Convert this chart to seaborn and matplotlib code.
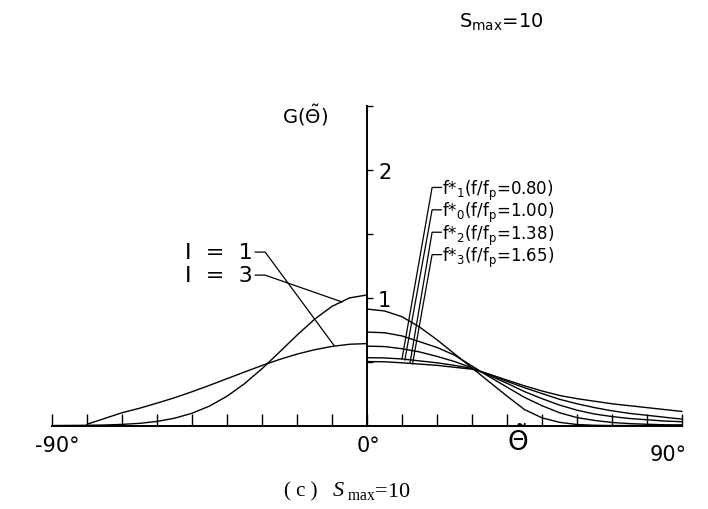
import numpy as np
import pandas as pd
import matplotlib
matplotlib.use("Agg")
import matplotlib.pyplot as plt
import seaborn as sns

# ---------------- data ----------------
theta_i3 = [-90, -85, -80, -75, -70, -65, -60, -55, -50, -45, -40, -35, -30, -25, -20, -15, -10, -5, 0]
g_i3 = [0.0, 0.001, 0.002, 0.004, 0.009, 0.017, 0.032, 0.057, 0.096, 0.152, 0.229, 0.327,
        0.444, 0.574, 0.706, 0.830, 0.931, 0.997, 1.02]

theta_i1 = [-80, -75, -70, -65, -60, -55, -50, -45, -40, -35, -30, -25, -20, -15, -10, -5, 0]
g_i1 = [0.01, 0.055, 0.10, 0.135, 0.175, 0.217, 0.264, 0.314, 0.366, 0.418, 0.469, 0.516,
        0.558, 0.592, 0.618, 0.635, 0.64]

theta_r = [0, 5, 10, 15, 20, 25, 30, 35, 40, 45, 50, 55, 60, 65, 70, 75, 80, 85, 90]
g_a = [0.91, 0.895, 0.85, 0.77, 0.67, 0.56, 0.45, 0.34, 0.23, 0.125, 0.06, 0.025, 0.008, 0.002, 0, 0, 0, 0, 0]
g_b = [0.73, 0.725, 0.70, 0.655, 0.61, 0.55, 0.465, 0.38, 0.30, 0.22, 0.155, 0.10, 0.062, 0.04, 0.024, 0.015, 0.01, 0.006, 0.005]
g_c = [0.62, 0.617, 0.60, 0.575, 0.54, 0.50, 0.45, 0.39, 0.33, 0.265, 0.21, 0.16, 0.12, 0.09, 0.07, 0.055, 0.045, 0.035, 0.03]
g_d = [0.53, 0.528, 0.52, 0.505, 0.49, 0.47, 0.445, 0.40, 0.345, 0.295, 0.25, 0.205, 0.17, 0.14, 0.115, 0.095, 0.08, 0.065, 0.05]
g_e = [0.50, 0.498, 0.49, 0.48, 0.47, 0.455, 0.44, 0.40, 0.355, 0.31, 0.27, 0.235, 0.21, 0.19, 0.17, 0.155, 0.14, 0.125, 0.11]

freq_labels = [r"f*$_{\mathregular{1}}$(f/f$_{\mathregular{p}}$=0.80)",
               r"f*$_{\mathregular{0}}$(f/f$_{\mathregular{p}}$=1.00)",
               r"f*$_{\mathregular{2}}$(f/f$_{\mathregular{p}}$=1.38)",
               r"f*$_{\mathregular{3}}$(f/f$_{\mathregular{p}}$=1.65)"]
freq_targets = [(10.0, 0.52), (10.8, 0.51), (12.3, 0.49), (13.0, 0.48)]

iter_labels = ["I  =  1", "I  =  3"]
iter_targets = [(-9.4, 0.625), (-7.1, 0.965)]

xtick_pos = list(range(-90, 91, 10))
xlabel_pos = [-88.5, 0.5, 86.0]
xlabel_text = ["-90°", "0°", "90°"]
ytick_pos = [0.5, 1.0, 1.5, 2.0, 2.5]
ytick_text = ["", "1", "", "2", ""]

# ---------------- figure ----------------
sns.set_theme(style="white")
plt.rcParams["font.family"] = ["DejaVu Sans"]

fig = plt.figure(figsize=(7.08, 5.10), dpi=100)
ax = fig.add_axes([0, 0, 1, 1])
ax.set_facecolor("white")
ax.set_xlim(-104.86, 97.43)
ax.set_ylim(-0.652, 3.332)

curves = [(theta_i3, g_i3), (theta_i1, g_i1),
          (theta_r, g_a), (theta_r, g_b), (theta_r, g_c), (theta_r, g_d), (theta_r, g_e)]
for th, g in curves:
    df = pd.DataFrame({"theta": th, "G": g})
    sns.lineplot(data=df, x="theta", y="G", ax=ax, color="black", lw=1.0,
                 estimator=None, sort=False, legend=False)

# axes / spines
for s in ["top", "right"]:
    ax.spines[s].set_visible(False)
ax.spines["left"].set_position(("data", 0))
ax.spines["bottom"].set_position(("data", 0))
ax.spines["left"].set_bounds(0, 2.5)
ax.spines["bottom"].set_bounds(-90, 90)
for s in ["left", "bottom"]:
    ax.spines[s].set_color("black")
    ax.spines[s].set_linewidth(1.4)

ax.set_xticks(xtick_pos)
ax.set_xticklabels([""] * len(xtick_pos))
ax.tick_params(axis="x", which="major", bottom=True, direction="in", length=8.5,
               width=1.0, color="black")
ax.set_yticks(ytick_pos)
ax.set_yticklabels(ytick_text)
ax.tick_params(axis="y", which="major", left=True, direction="in", length=4, width=1.0,
               color="black", pad=-8, labelsize=15, labelcolor="black")
for t in ax.get_yticklabels():
    t.set_ha("left")
ax.set_xlabel("")
ax.set_ylabel("")

for xp, lab in zip(xlabel_pos, xlabel_text):
    yy = -0.22 if lab == "90°" else -0.155
    ax.text(xp, yy, lab, ha="center", va="center", fontsize=15, color="black")

# axis titles
ax.text(-17.7, 2.43, r"G($\tilde{\Theta}$)", ha="center", va="center", fontsize=14, color="black")
ax.text(43.1, -0.115, r"$\tilde{\Theta}$", ha="center", va="center", fontsize=19, color="black")

# frequency labels with leaders
row_y = [1.84, 1.665, 1.49, 1.315]
for lab, ry, (tx, ty) in zip(freq_labels, row_y, freq_targets):
    ax.text(21.4, ry, lab, ha="left", va="center", fontsize=12, color="black")
    ax.plot([21.3, 18.6, tx], [ry + 0.02, ry + 0.02, ty], color="black", lw=0.9)

# iteration labels with leaders
iter_y = [1.355, 1.175]
for lab, ry, (tx, ty) in zip(iter_labels, iter_y, iter_targets):
    ax.text(-52.0, ry, lab, ha="left", va="center", fontsize=16, color="black")
    ax.plot([-32.0, -29.1, tx], [ry, ry, ty], color="black", lw=0.9)

# top title
ax.text(38.3, 3.16, r"S$_{\mathregular{max}}$=10", ha="center", va="center", fontsize=14, color="black")

# caption
ax.text(-18.9, -0.51, "( c )", ha="center", va="center", fontsize=15,
        family="Liberation Serif", color="black")
ax.text(-9.7, -0.51, "S", ha="left", va="center", fontsize=16, fontstyle="italic",
        family="Liberation Serif", color="black")
ax.text(-5.6, -0.51, r"$_{\mathregular{max}}$=10", ha="left", va="center", fontsize=16,
        family="Liberation Serif", color="black")

fig.savefig("out.png", dpi=100, facecolor="white")
